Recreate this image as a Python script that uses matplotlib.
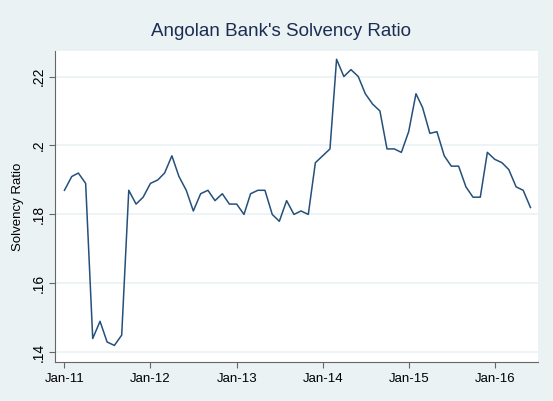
import matplotlib
matplotlib.use("Agg")
import matplotlib.pyplot as plt
import matplotlib.dates as mdates
import pandas as pd

# Monthly solvency ratio, Jan-2011 .. Jun-2016
START = "2011-01-01"
RATIO = [
    0.187, 0.191, 0.192, 0.189, 0.144, 0.149, 0.143, 0.142, 0.145, 0.187,
    0.183, 0.185, 0.189, 0.190, 0.192, 0.197, 0.191, 0.187, 0.181, 0.186,
    0.187, 0.184, 0.186, 0.183, 0.183, 0.180, 0.186, 0.187, 0.187, 0.180,
    0.178, 0.184, 0.180, 0.181, 0.180, 0.195, 0.197, 0.199, 0.225, 0.220,
    0.222, 0.220, 0.215, 0.212, 0.210, 0.199, 0.199, 0.198, 0.204, 0.215,
    0.211, 0.2035, 0.204, 0.197, 0.194, 0.194, 0.188, 0.185, 0.185, 0.198,
    0.196, 0.195, 0.193, 0.188, 0.187, 0.182,
]
dates = pd.date_range(START, periods=len(RATIO), freq="MS")

YTICKS = [0.14, 0.16, 0.18, 0.20, 0.22]
YTICK_LABELS = [".14", ".16", ".18", ".2", ".22"]
XTICKS = pd.to_datetime(["2011-01-01", "2012-01-01", "2013-01-01",
                         "2014-01-01", "2015-01-01", "2016-01-01"])

BG = "#EAF2F3"
NAVY = "#24507a"

plt.rcParams["font.family"] = ["Liberation Sans", "DejaVu Sans"]

fig = plt.figure(figsize=(5.53, 4.01), dpi=100, facecolor=BG)
ax = fig.add_axes([0.0995, 0.0973, 0.8734, 0.7755])
ax.set_facecolor("white")

ax.plot(dates, RATIO, color=NAVY, linewidth=1.1, zorder=3)

ax.set_xlim(pd.Timestamp("2010-11-22"), pd.Timestamp("2016-07-03"))
ax.set_ylim(0.1372, 0.2274)

ax.set_yticks(YTICKS)
ax.set_yticklabels(YTICK_LABELS, rotation=90, va="center", fontsize=10)
ax.set_xticks(XTICKS)
ax.xaxis.set_major_formatter(mdates.DateFormatter("%b-%y"))
ax.tick_params(axis="x", labelsize=9.5, length=4, color="#666666", pad=4)
ax.tick_params(axis="y", length=4, color="#666666", pad=3)

ax.grid(axis="y", color=BG, linewidth=1.2, zorder=0)
ax.grid(axis="x", visible=False)

for side in ["top", "right"]:
    ax.spines[side].set_visible(False)
for side in ["left", "bottom"]:
    ax.spines[side].set_color("#666666")
    ax.spines[side].set_linewidth(0.8)

ax.set_ylabel("Solvency Ratio", fontsize=9.5, labelpad=5)
fig.text(0.508, 0.922, "Angolan Bank's Solvency Ratio", ha="center",
         va="center", fontsize=13.5, color="#1c2d52")

fig.savefig("out.png", dpi=100, facecolor=BG)
